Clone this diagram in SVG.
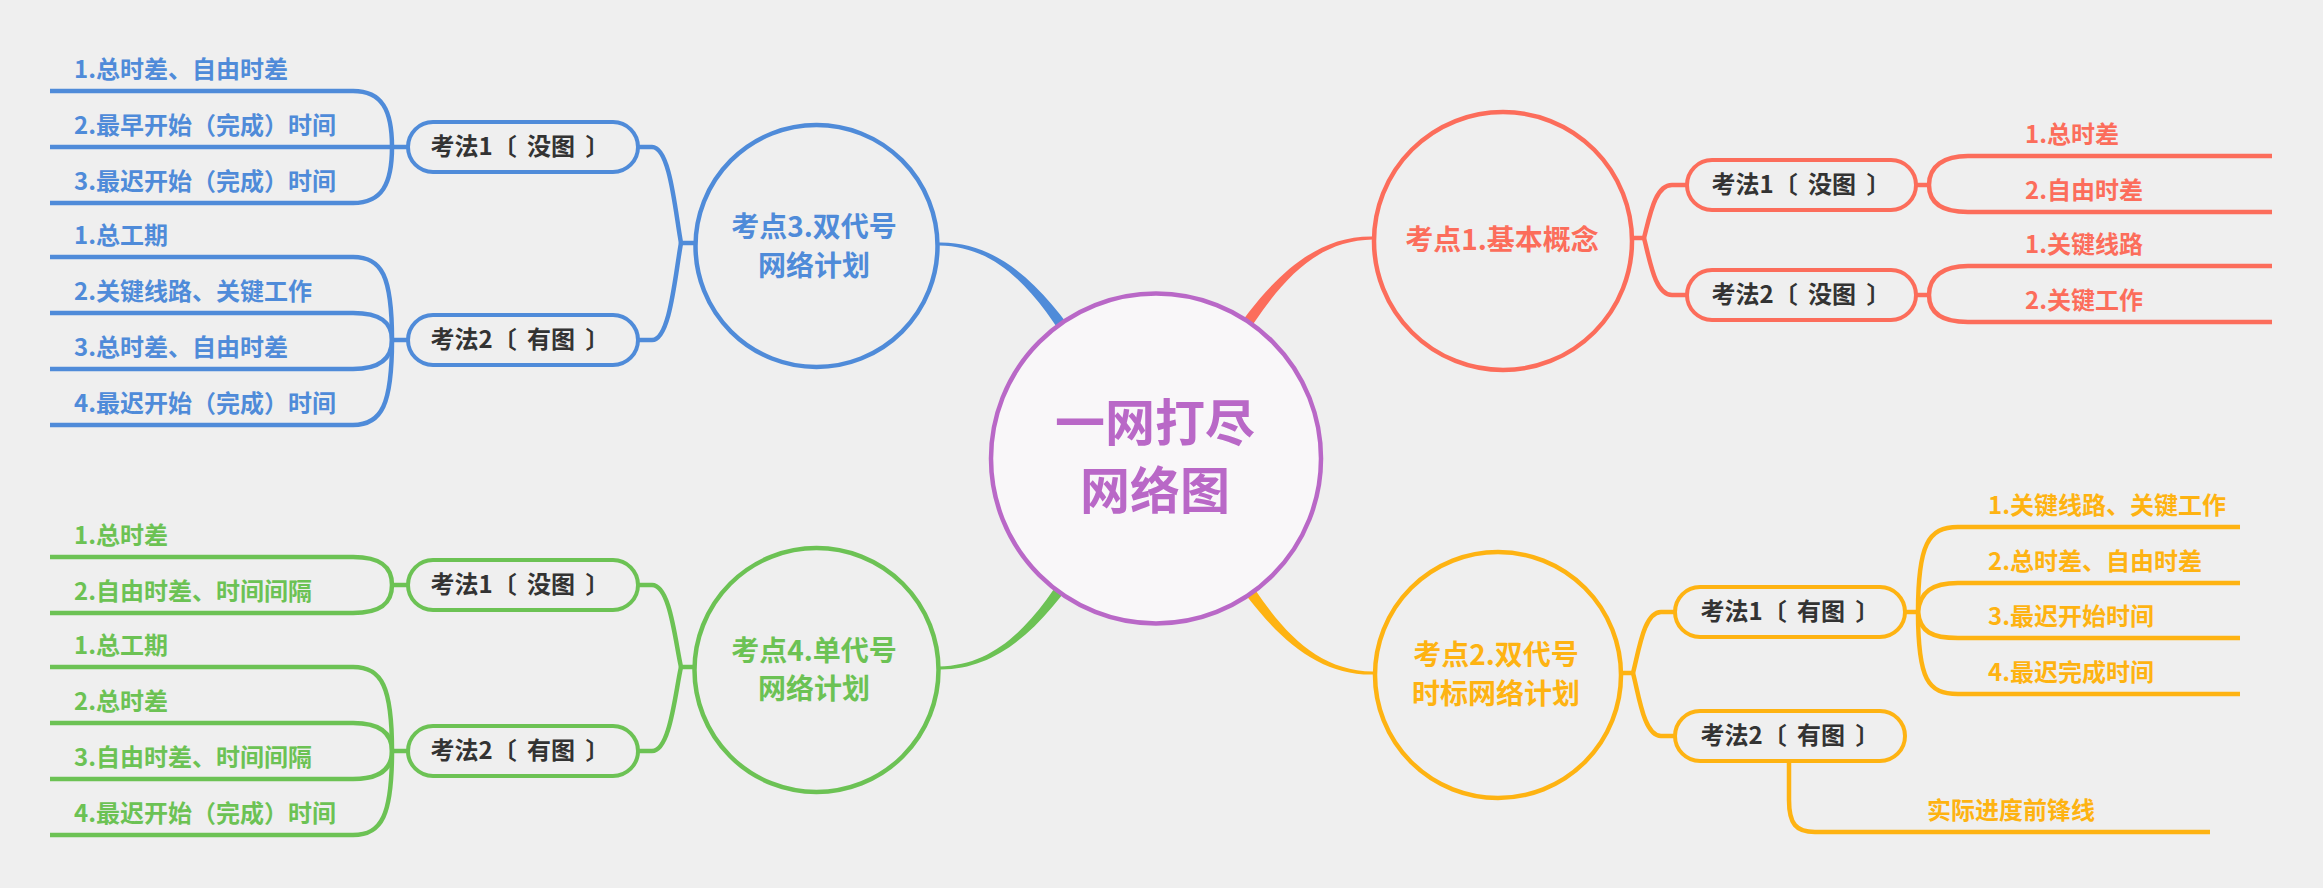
<svg xmlns="http://www.w3.org/2000/svg" width="2323" height="888" viewBox="0 0 2323 888">
<style>
text{font-family:"Noto Sans CJK SC","Noto Sans",sans-serif;font-weight:bold}
.ln{fill:none;stroke-width:4.5;stroke-linecap:butt;stroke-linejoin:round}
.bx{stroke-width:4}
.ci{stroke-width:4.5}
.blue{stroke:#4f8bd9}.green{stroke:#6cc254}.coral{stroke:#fc6d5b}.orange{stroke:#feb312}
.tb{fill:#4f8bd9}.tg{fill:#6cc254}.tc{fill:#fc6d5b}.to{fill:#feb312}
.box{fill:#efefef}
.bt{fill:#333333;font-size:24px;text-anchor:middle;word-spacing:5px}
.lf{font-size:24px}
.tp{font-size:28px;text-anchor:middle}
</style>
<rect width="2323" height="888" fill="#efefef"/>
<g id="connectors">
  <path fill="#4f8bd9" d="M939,242.5 C1000,241.5 1043.8,287.6 1085,348.7 L1075,355.3 C1036.2,292.4 1000,246.5 939,245.5 Z"/>
  <path fill="#6cc254" d="M939,669.5 C1000,670.5 1043.8,624.4 1085,563.3 L1075,556.7 C1036.2,619.6 1000,665.5 939,666.5 Z"/>
  <path fill="#fc6d5b" d="M1373,236.5 C1312,235.5 1268.2,281.6 1227,342.7 L1237,349.3 C1275.8,286.4 1312,240.5 1373,239.5 Z"/>
  <path fill="#feb312" d="M1373,674.5 C1312,675.5 1268.2,629.4 1227,568.3 L1237,561.7 C1275.8,624.6 1312,670.5 1373,671.5 Z"/>
  <g class="ln blue">
    <path d="M695,243 H681 C675,210 670,147 652,147 H638"/>
    <path d="M681,243 C675,276 670,340 652,340 H638"/>
    <path d="M408,147 H392"/>
    <path d="M392,147 C392,110 382,91 353,91 H50"/>
    <path d="M392,147 H50"/>
    <path d="M392,147 C392,184 382,203 353,203 H50"/>
    <path d="M408,340 H392"/>
    <path d="M392,340 C392,276 382,257 353,257 H50"/>
    <path d="M392,340 C392,322 380,313 353,313 H50"/>
    <path d="M392,340 C392,358 380,369 353,369 H50"/>
    <path d="M392,340 C392,404 382,425 353,425 H50"/>
  </g>
  <g class="ln green">
    <path d="M695,667 H681 C675,640 670,585 652,585 H638"/>
    <path d="M681,667 C675,694 670,751 652,751 H638"/>
    <path d="M408,585 H392"/>
    <path d="M392,585 C392,566 380,557 353,557 H50"/>
    <path d="M392,585 C392,604 380,613 353,613 H50"/>
    <path d="M408,751 H392"/>
    <path d="M392,751 C392,687 382,667 353,667 H50"/>
    <path d="M392,751 C392,733 380,723 353,723 H50"/>
    <path d="M392,751 C392,769 380,779 353,779 H50"/>
    <path d="M392,751 C392,815 382,835 353,835 H50"/>
  </g>
  <g class="ln coral">
    <path d="M1632,238 H1644 C1650,215 1655,185 1672,185 H1689"/>
    <path d="M1644,238 C1650,261 1655,295 1672,295 H1689"/>
    <path d="M1916,185 H1929"/>
    <path d="M1929,185 C1929,166 1944,156 1968,156 H2272"/>
    <path d="M1929,185 C1929,204 1944,212 1968,212 H2272"/>
    <path d="M1916,295 H1929"/>
    <path d="M1929,295 C1929,276 1944,266 1968,266 H2272"/>
    <path d="M1929,295 C1929,314 1944,322 1968,322 H2272"/>
  </g>
  <g class="ln orange">
    <path d="M1621,673 H1633 C1639,650 1644,612 1661,612 H1677"/>
    <path d="M1633,673 C1639,696 1644,736 1661,736 H1677"/>
    <path d="M1905,612 H1918"/>
    <path d="M1918,612 C1918,545 1928,527 1958,527 H2240"/>
    <path d="M1918,612 C1920,592 1932,583 1958,583 H2240"/>
    <path d="M1918,612 C1920,632 1932,638 1958,638 H2240"/>
    <path d="M1918,612 C1918,680 1928,694 1958,694 H2240"/>
    <path d="M1789,761 V800 C1789,824 1796,832 1815,832 H2210"/>
  </g>
</g>

<g id="center">
  <circle cx="1156" cy="458.5" r="165" fill="#f9f7f9" stroke="#b968c7" stroke-width="4.5"/>
  <text x="1155" y="441" font-size="50" fill="#b968c7" text-anchor="middle">一网打尽</text>
  <text x="1155" y="509" font-size="50" fill="#b968c7" text-anchor="middle">网络图</text>
</g>

<g id="topic1">
  <circle class="ci coral box" cx="1503" cy="241" r="129"/>
  <text class="tp tc" x="1502" y="250">考点1.基本概念</text>
</g>
<g id="topic2">
  <circle class="ci orange box" cx="1498" cy="675" r="123"/>
  <text class="tp to" x="1496" y="665">考点2.双代号</text>
  <text class="tp to" x="1496" y="704">时标网络计划</text>
</g>
<g id="topic3">
  <circle class="ci blue box" cx="816.5" cy="246" r="121"/>
  <text class="tp tb" x="814" y="237">考点3.双代号</text>
  <text class="tp tb" x="814" y="276">网络计划</text>
</g>
<g id="topic4">
  <circle class="ci green box" cx="816.5" cy="670" r="122"/>
  <text class="tp tg" x="814" y="661">考点4.单代号</text>
  <text class="tp tg" x="814" y="699">网络计划</text>
</g>

<g id="t3-m1"><rect class="bx blue box" x="408" y="122" width="230" height="50" rx="25"/><text class="bt" x="520" y="155">考法1〔 没图 〕</text></g>
<g id="t3-m2"><rect class="bx blue box" x="408" y="315" width="230" height="50" rx="25"/><text class="bt" x="520" y="348">考法2〔 有图 〕</text></g>
<g id="t4-m1"><rect class="bx green box" x="408" y="560" width="230" height="50" rx="25"/><text class="bt" x="520" y="593">考法1〔 没图 〕</text></g>
<g id="t4-m2"><rect class="bx green box" x="408" y="726" width="230" height="50" rx="25"/><text class="bt" x="520" y="759">考法2〔 有图 〕</text></g>
<g id="t1-m1"><rect class="bx coral box" x="1687" y="160" width="229" height="50" rx="25"/><text class="bt" x="1801" y="193">考法1〔 没图 〕</text></g>
<g id="t1-m2"><rect class="bx coral box" x="1687" y="270" width="229" height="50" rx="25"/><text class="bt" x="1801" y="303">考法2〔 没图 〕</text></g>
<g id="t2-m1"><rect class="bx orange box" x="1675" y="587" width="230" height="50" rx="25"/><text class="bt" x="1790" y="620">考法1〔 有图 〕</text></g>
<g id="t2-m2"><rect class="bx orange box" x="1675" y="711" width="230" height="50" rx="25"/><text class="bt" x="1790" y="744">考法2〔 有图 〕</text></g>

<g id="t3-leaves" class="lf tb">
  <text x="74" y="78">1.总时差、自由时差</text>
  <text x="74" y="134">2.最早开始（完成）时间</text>
  <text x="74" y="190">3.最迟开始（完成）时间</text>
  <text x="74" y="244">1.总工期</text>
  <text x="74" y="300">2.关键线路、关键工作</text>
  <text x="74" y="356">3.总时差、自由时差</text>
  <text x="74" y="412">4.最迟开始（完成）时间</text>
</g>
<g id="t4-leaves" class="lf tg">
  <text x="74" y="544">1.总时差</text>
  <text x="74" y="600">2.自由时差、时间间隔</text>
  <text x="74" y="654">1.总工期</text>
  <text x="74" y="710">2.总时差</text>
  <text x="74" y="766">3.自由时差、时间间隔</text>
  <text x="74" y="822">4.最迟开始（完成）时间</text>
</g>
<g id="t1-leaves" class="lf tc">
  <text x="2025" y="143">1.总时差</text>
  <text x="2025" y="199">2.自由时差</text>
  <text x="2025" y="253">1.关键线路</text>
  <text x="2025" y="309">2.关键工作</text>
</g>
<g id="t2-leaves" class="lf to">
  <text x="1988" y="514">1.关键线路、关键工作</text>
  <text x="1988" y="570">2.总时差、自由时差</text>
  <text x="1988" y="625">3.最迟开始时间</text>
  <text x="1988" y="681">4.最迟完成时间</text>
  <text x="1927" y="819">实际进度前锋线</text>
</g>
</svg>
